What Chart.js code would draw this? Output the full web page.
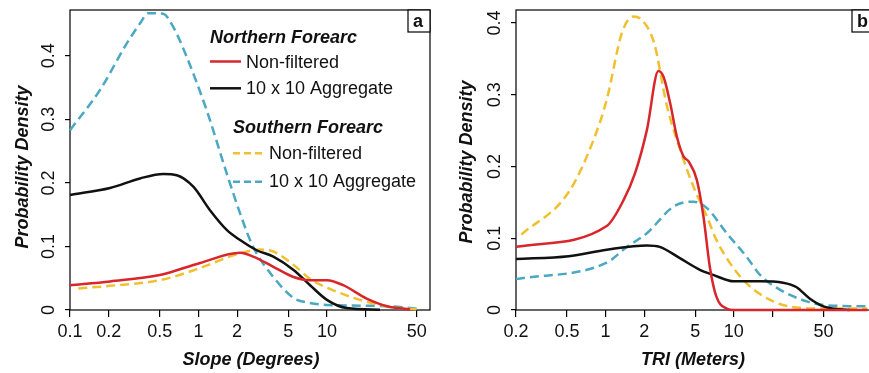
<!DOCTYPE html>
<html>
<head>
<meta charset="utf-8">
<script src="https://cdn.jsdelivr.net/npm/chart.js@4.4.1/dist/chart.umd.min.js"></script>
<style>
  html, body { margin: 0; padding: 0; background: #fff; overflow: hidden; width: 869px; height: 373px; }
  .panel { position: absolute; top: 0; }
</style>
</head>
<body>
<div class="panel" style="left:0"><canvas id="chartA" width="440" height="373"></canvas></div>
<div class="panel" style="left:440px"><canvas id="chartB" width="434" height="373"></canvas></div>
<script>
// ---- data ----
const yTicks = [0, 0.1, 0.2, 0.3, 0.4];
const slopeTicks = [0.1, 0.2, 0.5, 1, 2, 5, 10, 20, 50];
const triTicks = [0.2, 0.5, 1, 2, 5, 10, 20, 50];

// panel a: slope
const slopeNorthRawX = [0.1, 0.205, 0.5, 1.03, 2.11, 2.67, 3.83, 5.5, 7.4, 10, 13.4, 20.4, 29.4, 44.5];
const slopeNorthRawY = [0.039, 0.045, 0.055, 0.074, 0.090, 0.084, 0.068, 0.052, 0.047, 0.047, 0.039, 0.018, 0.006, 0.001];
const slopeNorthAggX = [0.1, 0.205, 0.351, 0.533, 0.678, 0.912, 1.23, 1.66, 2.11, 2.84, 3.83, 5.5, 7.4, 10, 14.3, 25.9];
const slopeNorthAggY = [0.181, 0.192, 0.207, 0.214, 0.212, 0.194, 0.157, 0.126, 0.110, 0.094, 0.084, 0.063, 0.039, 0.016, 0.003, 0.0005];
const slopeSouthRawX = [0.116, 0.205, 0.502, 1.03, 1.87, 3.02, 3.83, 5.5, 7.4, 11.2, 18.1, 31, 50];
const slopeSouthRawY = [0.034, 0.038, 0.047, 0.066, 0.086, 0.095, 0.092, 0.071, 0.049, 0.031, 0.016, 0.005, 0.001];
const slopeSouthAggX = [0.1, 0.171, 0.276, 0.351, 0.405, 0.53, 0.638, 0.811, 1.16, 1.66, 2.11, 2.67, 3.83, 5.5, 7.4, 10, 29.4, 50];
const slopeSouthAggY = [0.283, 0.346, 0.419, 0.451, 0.467, 0.466, 0.445, 0.398, 0.314, 0.215, 0.152, 0.099, 0.052, 0.019, 0.011, 0.008, 0.006, 0.002];

// panel b: TRI
const triNorthRawX = [0.2, 1.02, 1.38, 1.70, 2.1, 2.58, 2.83, 3.19, 3.59, 4.05, 4.44, 5.15, 5.8, 6.5, 7.3, 8.8, 10, 110];
const triNorthRawY = [0.088, 0.117, 0.153, 0.191, 0.251, 0.333, 0.325, 0.288, 0.242, 0.214, 0.207, 0.181, 0.130, 0.060, 0.019, 0.002, 0, 0];
const triNorthAggX = [0.2, 0.514, 1.02, 2.1, 2.64, 3.82, 5.44, 6.9, 10, 16, 24.2, 30.7, 39, 50, 67, 80];
const triNorthAggY = [0.071, 0.075, 0.084, 0.090, 0.088, 0.072, 0.056, 0.049, 0.040, 0.040, 0.038, 0.032, 0.016, 0.005, 0.001, 0];
const triSouthRawX = [0.22, 0.514, 0.805, 1.02, 1.34, 1.65, 1.92, 2.39, 3.01, 3.82, 4.84, 6.17, 7.3, 9.36, 12.6, 20.3, 32.9, 60, 110];
const triSouthRawY = [0.105, 0.164, 0.237, 0.293, 0.386, 0.409, 0.404, 0.372, 0.284, 0.223, 0.172, 0.130, 0.098, 0.065, 0.037, 0.012, 0.003, 0.002, 0.002];
const triSouthAggX = [0.2, 1.02, 1.47, 2.1, 3.38, 4.84, 6.17, 8.8, 12.6, 16, 23, 37, 50, 110];
const triSouthAggY = [0.043, 0.066, 0.088, 0.107, 0.144, 0.151, 0.142, 0.107, 0.074, 0.049, 0.028, 0.012, 0.007, 0.005];

const FONT = '"Liberation Sans", Arial, sans-serif';
const RED = '#d9262b', BLACK = '#111111', YELLOW = '#f0c030', BLUE = '#4aa8c2';

const pts = (xs, ys) => xs.map((x, i) => ({ x: x, y: ys[i] }));
const line = (data, color, dashed) => ({
  data: data, borderColor: color, borderWidth: 2.5, borderDash: dashed ? [9, 5] : [],
  pointRadius: 0, cubicInterpolationMode: 'monotone', fill: false, clip: false
});

// frame, rotated y labels, axis titles, legend, panel letter
const decor = {
  id: 'decor',
  beforeDatasetsDraw(chart, args, o) {
    const { ctx, chartArea: a } = chart;
    ctx.save();
    ctx.strokeStyle = '#000';
    ctx.lineWidth = 1.2;
    ctx.strokeRect(a.left, a.top, a.right - a.left, a.bottom - a.top);
    ctx.restore();
  },
  afterDraw(chart, args, o) {
    const { ctx, chartArea: a } = chart;
    const ys = chart.scales.y;
    ctx.save();
    ctx.fillStyle = '#111';
    ctx.font = '18px ' + FONT;
    ctx.textAlign = 'center';
    ctx.textBaseline = 'middle';
    yTicks.forEach(v => {
      ctx.save();
      ctx.translate(a.left - o.yLabelOffset, ys.getPixelForValue(v));
      ctx.rotate(-Math.PI / 2);
      ctx.fillText(String(v), 0, 0);
      ctx.restore();
    });
    // axis titles
    ctx.font = 'italic bold 18px ' + FONT;
    ctx.fillText(o.xTitle, o.xTitlePos[0], o.xTitlePos[1]);
    ctx.save();
    ctx.translate(o.yTitlePos[0], o.yTitlePos[1]);
    ctx.rotate(-Math.PI / 2);
    ctx.fillText('Probability Density', 0, 0);
    ctx.restore();
    // panel letter box
    const b = o.letterBox;
    ctx.lineWidth = 1.2;
    ctx.strokeStyle = '#000';
    ctx.fillStyle = '#fff';
    ctx.fillRect(b[0], b[1], b[2], b[3]);
    ctx.strokeRect(b[0], b[1], b[2], b[3]);
    ctx.fillStyle = '#111';
    ctx.font = 'bold 18px ' + FONT;
    ctx.textAlign = 'left';
    ctx.fillText(o.letter, b[0] + 5, b[1] + b[3] / 2 + 1);
    // legend
    if (o.legend) {
      ctx.textBaseline = 'alphabetic';
      ctx.textAlign = 'left';
      ctx.font = 'italic bold 18px ' + FONT;
      ctx.fillText('Northern Forearc', 210, 43);
      ctx.fillText('Southern Forearc', 233, 133);
      const items = [
        [210, 241, 61.5, 246, 67.5, RED, false, 'Non-filtered'],
        [210, 241, 88.3, 246, 94, BLACK, false, '10 x 10 Aggregate'],
        [233, 265, 153.3, 269, 159.3, YELLOW, true, 'Non-filtered'],
        [233, 265, 181.7, 269, 187.3, BLUE, true, '10 x 10 Aggregate']
      ];
      ctx.font = '18px ' + FONT;
      items.forEach(it => {
        ctx.strokeStyle = it[5];
        ctx.lineWidth = 2.5;
        ctx.setLineDash(it[6] ? [7, 4] : []);
        ctx.beginPath();
        ctx.moveTo(it[0], it[2]);
        ctx.lineTo(it[1], it[2]);
        ctx.stroke();
        ctx.setLineDash([]);
        ctx.fillStyle = '#111';
        ctx.fillText(it[7], it[3], it[4]);
      });
    }
    ctx.restore();
  }
};

function makePanel(id, cfg) {
  return new Chart(document.getElementById(id), {
    type: 'line',
    data: { datasets: cfg.datasets },
    plugins: [decor],
    options: {
      responsive: false, animation: false,
      layout: { padding: { left: 0, right: cfg.padRight, top: 10, bottom: 0 } },
      plugins: { legend: { display: false }, tooltip: { enabled: false }, decor: cfg.decor },
      scales: {
        x: {
          type: 'logarithmic', min: cfg.xMin, max: cfg.xMax,
          afterBuildTicks: s => { s.ticks = cfg.xTicks.map(v => ({ value: v })); },
          afterFit: s => { s.height = 63; },
          border: { display: false },
          grid: { drawOnChartArea: false, drawTicks: true, tickLength: 7, color: '#000', lineWidth: 1.2 },
          ticks: {
            autoSkip: false, maxRotation: 0, minRotation: 0, padding: 4, color: '#111',
            font: { family: FONT, size: 18 },
            callback: v => (v === 20 ? '' : String(v))
          }
        },
        y: {
          type: 'linear', min: 0, max: cfg.yMax,
          afterBuildTicks: s => { s.ticks = yTicks.map(v => ({ value: v })); },
          afterFit: s => { s.width = cfg.yWidth; },
          border: { display: false },
          grid: { drawOnChartArea: false, drawTicks: true, tickLength: 5, color: '#000', lineWidth: 1.2 },
          ticks: { display: false }
        }
      }
    }
  });
}

makePanel('chartA', {
  xMin: 0.1, xMax: 63.5, yMax: 0.472, xTicks: slopeTicks, yWidth: 70, padRight: 10,
  datasets: [
    line(pts(slopeNorthRawX, slopeNorthRawY), RED, false),
    line(pts(slopeNorthAggX, slopeNorthAggY), BLACK, false),
    line(pts(slopeSouthRawX, slopeSouthRawY), YELLOW, true),
    line(pts(slopeSouthAggX, slopeSouthAggY), BLUE, true)
  ],
  decor: {
    yLabelOffset: 21, xTitle: 'Slope (Degrees)', xTitlePos: [251, 360], yTitlePos: [23, 167],
    letter: 'a', letterBox: [408, 10, 22, 22], legend: true
  }
});

makePanel('chartB', {
  xMin: 0.2, xMax: 124, yMax: 0.418, xTicks: triTicks, yWidth: 76, padRight: 0,
  datasets: [
    line(pts(triNorthRawX, triNorthRawY), RED, false),
    line(pts(triNorthAggX, triNorthAggY), BLACK, false),
    line(pts(triSouthRawX, triSouthRawY), YELLOW, true),
    line(pts(triSouthAggX, triSouthAggY), BLUE, true)
  ],
  decor: {
    yLabelOffset: 21, xTitle: 'TRI (Meters)', xTitlePos: [253, 360], yTitlePos: [27, 162],
    letter: 'b', letterBox: [412, 10, 22, 22], legend: false
  }
});
</script>
</body>
</html>
